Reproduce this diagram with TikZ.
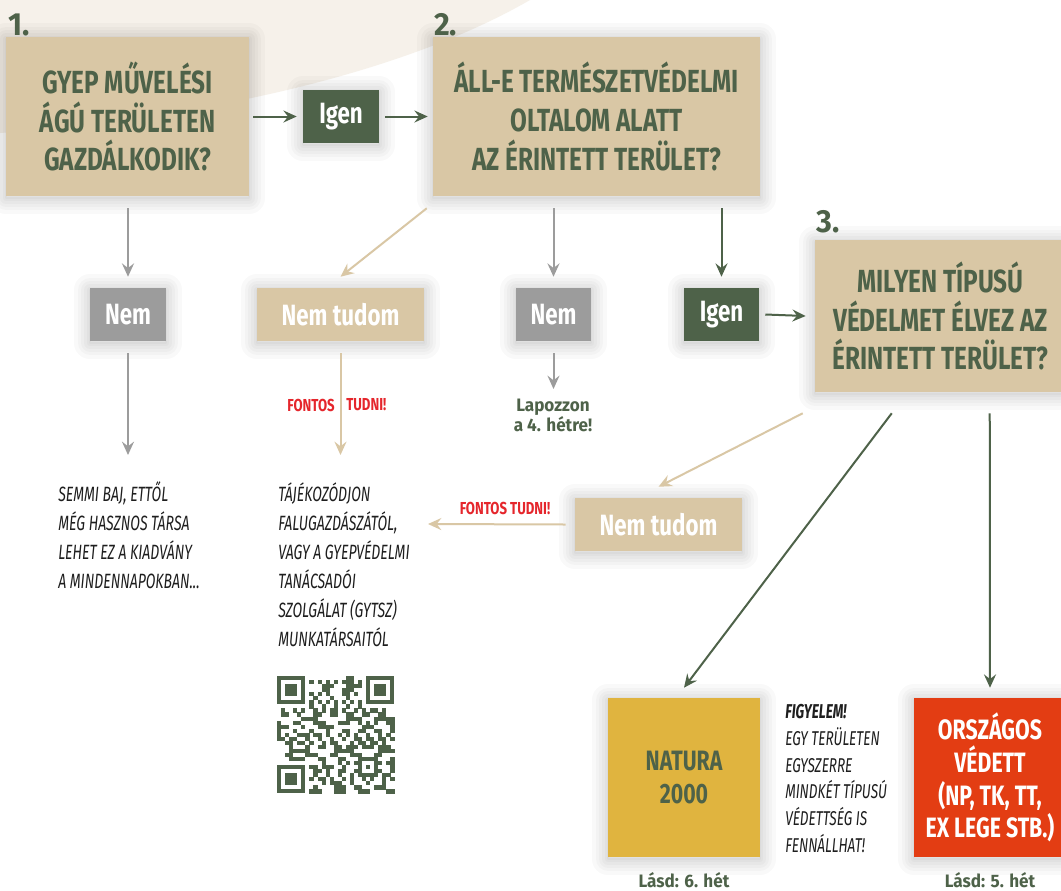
\documentclass[tikz,border=0pt]{standalone}
\usepackage{fontspec}
\setmainfont{Fira Sans}[FakeStretch=0.76]
\newfontfamily\widefont{Fira Sans}[FakeStretch=0.95]
\newfontfamily\itfam{Fira Sans}[FakeStretch=0.68]
\usetikzlibrary{arrows.meta,calc}
\definecolor{bgc}{HTML}{F6F1EA}
\definecolor{tanc}{HTML}{D9C7A5}
\definecolor{dgreen}{HTML}{4E6249}
\definecolor{greyc}{HTML}{9C9C9C}
\definecolor{redc}{HTML}{E5262C}
\definecolor{yel}{HTML}{E0B43F}
\definecolor{orng}{HTML}{E33D13}
\definecolor{ink}{HTML}{1E1E1E}
\begin{document}
\begin{tikzpicture}[x=0.75pt,y=-0.75pt,
  shl/.style={preaction={draw=black,draw opacity=0.022,line width=#1,line join=round,transform canvas={yshift=-1.5pt}}},
  sh/.style={shl=24pt,shl=18pt,shl=13pt,shl=9pt,shl=5pt,shl=2pt},
  box/.style={fill=tanc, text=dgreen, font=\bfseries\fontsize{24}{29}\selectfont, align=center, inner sep=0pt, sh},
  ans/.style={text=white, font=\bfseries\fontsize{22}{26}\selectfont, inner sep=0pt, minimum height=39.75pt, sh},
  arr/.style={line width=1.5pt, -{Stealth[length=10pt,width=9pt,inset=3.5pt]}},
  body/.style={font=\itfam\itshape\fontsize{15.5}{21.75}\selectfont, text=ink, align=left, inner sep=0pt},
  bodyb/.style={font=\itfam\itshape\fontsize{15}{20}\selectfont, text=ink, align=left, inner sep=0pt},
  fontos/.style={text=redc, font=\bfseries\fontsize{13}{15}\selectfont, inner sep=0pt},
  lap/.style={text=dgreen, font=\widefont\bfseries\fontsize{13.5}{15}\selectfont, align=center, inner sep=0pt},
  numst/.style={text=dgreen, font=\widefont\bfseries\fontsize{24}{24}\selectfont, inner sep=0pt},
  final/.style={font=\bfseries\fontsize{21}{24.6}\selectfont, align=center, inner sep=0pt, minimum width=114pt, minimum height=119.25pt, sh}
]
\useasboundingbox (0,0) rectangle (1061,890);
\fill[white] (0,0) rectangle (1061,890);
\fill[bgc] (0,0) -- (0,133) .. controls (200,118) and (400,75) .. (530,0) -- cycle;

% question boxes
\node[box, minimum width=182.25pt, minimum height=119.25pt] (b1) at (127.5,116.5) {GYEP MŰVELÉSI\\ÁGÚ TERÜLETEN\\GAZDÁLKODIK?};
\node[box, minimum width=245.25pt, minimum height=119.25pt] (b2) at (596.5,116.5) {ÁLL-E TERMÉSZETVÉDELMI\\OLTALOM ALATT\\AZ ÉRINTETT TERÜLET?};
\node[box, minimum width=188.25pt, minimum height=114pt] (b3) at (940.5,316) {MILYEN TÍPUSÚ\\VÉDELMET ÉLVEZ AZ\\ÉRINTETT TERÜLET?};

\node[numst, anchor=base west] (num1) at (8,35) {1.};
\node[numst, anchor=base west] (num2) at (434,35) {2.};
\node[numst, anchor=base west] (num3) at (816,232) {3.};

% answers
\node[ans, fill=dgreen, minimum width=57pt] (i1) at (341,116.5) {Igen};
\node[ans, fill=greyc, minimum width=57pt] (n1) at (128,314.5) {Nem};
\node[ans, fill=tanc, minimum width=125.25pt] (t1) at (340.5,314.5) {Nem tudom};
\node[ans, fill=greyc, minimum width=56.25pt] (n2) at (553.5,314.5) {Nem};
\node[ans, fill=dgreen, minimum width=56.25pt] (i2) at (721.5,314.5) {Igen};
\node[ans, fill=tanc, minimum width=125.25pt] (t2) at (658.5,524.5) {Nem tudom};

% final boxes
\node[final, fill=yel, text=dgreen] (nat) at (684,777.5) {NATURA\\2000};
\node[final, fill=orng, text=white] (orsz) at (990,777.5) {ORSZÁGOS\\VÉDETT\\(NP, TK, TT,\\EX LEGE STB.)};

% texts
\node[body, anchor=west] (s1) at (58,535.5) {SEMMI BAJ, ETTŐL\\MÉG HASZNOS TÁRSA\\LEHET EZ A KIADVÁNY\\A MINDENNAPOKBAN...};
\node[body, anchor=west] (s2) at (278,564.5) {TÁJÉKOZÓDJON\\FALUGAZDÁSZÁTÓL,\\VAGY A GYEPVÉDELMI\\TANÁCSADÓI\\SZOLGÁLAT (GYTSZ)\\MUNKATÁRSAITÓL};
\node[bodyb, anchor=west] (fig) at (785,778.5) {\textbf{FIGYELEM!}\\EGY TERÜLETEN\\EGYSZERRE\\MINDKÉT TÍPUSÚ\\VÉDETTSÉG IS\\FENNÁLLHAT!};

\node[fontos, anchor=east] (f1a) at (335,405) {FONTOS};
\node[fontos, anchor=west] (f1b) at (346,405) {TUDNI!};
\node[fontos] (f2) at (505,508) {FONTOS TUDNI!};

\node[lap] (lap) at (553,415) {Lapozzon\\a 4. hétre!};
\node[lap, anchor=base] (l6) at (684,887) {Lásd: 6. hét};
\node[lap, anchor=base] (l5) at (990,887) {Lásd: 5. hét};

% free ends
\coordinate (c1) at (128,455);
\coordinate (c2) at (340.5,455);
\coordinate (c3) at (553.5,389);
\coordinate (c5) at (428,524);
\coordinate (c4) at ($(b3.south west)+(-12,21)$);
\coordinate (c6) at ($(b3.south west)+(77,21)$);
\coordinate (c7) at ($(b3.south west)+(175,21)$);

% connectors
\draw[arr,dgreen] ($(b1.east)+(4,0)$) -- ($(i1.west)+(-6,0)$);
\draw[arr,dgreen] ($(i1.east)+(6,0)$) -- ($(b2.west)+(-5,0)$);
\draw[arr,greyc] ($(n1 |- b1.south)+(0,12)$) -- ($(n1.north)+(0,-11)$);
\draw[arr,tanc] ($(b2.south west)+(-6,12)$) -- ($(t1.north)+(0,-11)$);
\draw[arr,greyc] ($(n2 |- b2.south)+(0,12)$) -- ($(n2.north)+(0,-11)$);
\draw[arr,dgreen] ($(i2 |- b2.south)+(0,12)$) -- ($(i2.north)+(0,-11)$);
\draw[arr,dgreen] ($(i2.east)+(6,0)$) -- ($(b3.west)+(-9,0)$);
\draw[arr,greyc] ($(n1.south)+(0,12)$) -- (c1);
\draw[arr,tanc] ($(t1.south)+(0,12)$) -- (c2);
\draw[arr,greyc] ($(n2.south)+(0,12)$) -- (c3);
\draw[arr,tanc] (c4) -- ($(t2.north)+(0,-11)$);
\draw[arr,tanc] ($(t2.west)+(-9,0)$) -- (c5);
\draw[arr,dgreen] (c6) -- ($(nat.north)+(0,-10)$);
\draw[arr,dgreen] (c7) -- ($(orsz.north)+(0,-10)$);

% QR code
\def\qs{4.05}
\foreach \a/\b in {0/0,22/0,0/22}{
  \fill[dgreen] ({277+\a*\qs},{676+\b*\qs}) rectangle ++({7*\qs},{7*\qs});
  \fill[white] ({277+(\a+1)*\qs},{676+(\b+1)*\qs}) rectangle ++({5*\qs},{5*\qs});
  \fill[dgreen] ({277+(\a+2)*\qs},{676+(\b+2)*\qs}) rectangle ++({3*\qs},{3*\qs});
}
\fill[dgreen] ({277+20*\qs},{676+20*\qs}) rectangle ++({5*\qs},{5*\qs});
\fill[white] ({277+21*\qs},{676+21*\qs}) rectangle ++({3*\qs},{3*\qs});
\fill[dgreen] ({277+22*\qs},{676+22*\qs}) rectangle ++({\qs},{\qs});
\foreach \k in {8,10,...,20}{
  \fill[dgreen] ({277+\k*\qs},{676+6*\qs}) rectangle ++({\qs+0.1},{\qs+0.1});
  \fill[dgreen] ({277+6*\qs},{676+\k*\qs}) rectangle ++({\qs+0.1},{\qs+0.1});
}
\foreach \i in {0,...,28}{
  \foreach \j in {0,...,28}{
    \pgfmathtruncatemacro{\ex}{(\i<8 && \j<8) || (\i>20 && \j<8) || (\i<8 && \j>20) || (\i>19 && \i<25 && \j>19 && \j<25) || \i==6 || \j==6}
    \ifnum\ex=0
      \pgfmathtruncatemacro{\r}{mod(mod(\i*37+11,29)*mod(\j*53+7,31)+\i*\j*3+\j,11)}
      \ifnum\r<5
        \fill[dgreen] ({277+\i*\qs},{676+\j*\qs}) rectangle ++({\qs+0.1},{\qs+0.1});
      \fi
    \fi
  }
}
\end{tikzpicture}
\end{document}
